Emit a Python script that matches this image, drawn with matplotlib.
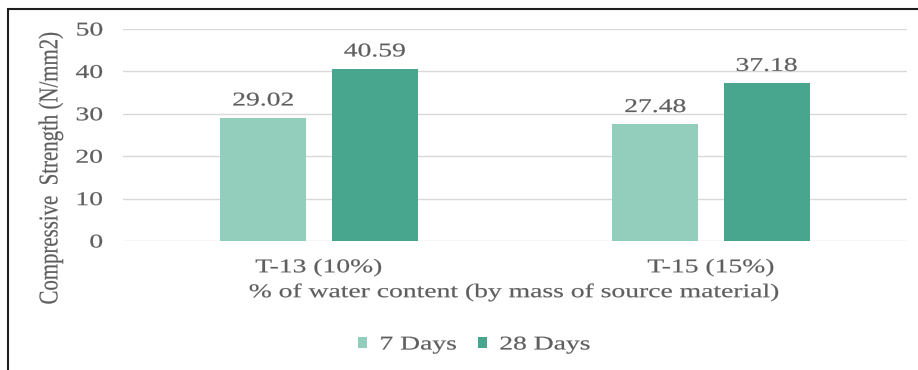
import matplotlib
matplotlib.use("Agg")
import matplotlib.pyplot as plt
from matplotlib.patches import Rectangle
from matplotlib.patheffects import AbstractPathEffect
from matplotlib.transforms import Affine2D
import numpy as np

categories = ["T-13 (10%)", "T-15 (15%)"]
series_names = ["7 Days", "28 Days"]
days7 = [29.02, 27.48]
days28 = [40.59, 37.18]
yticks = [0, 10, 20, 30, 40, 50]

colors = ["#93CEBD", "#48A68E"]
text_color = "#5E5E5E"
plt.rcParams["font.family"] = ["Liberation Serif", "DejaVu Serif"]


class Widen(AbstractPathEffect):
    """Draw glyphs stretched along the local x (or y) axis around an anchor,
    with a thin outline in the fill colour to give the strokes some weight."""

    def __init__(self, sx=1.0, sy=1.0, anchor="center", lw=0.15):
        super().__init__()
        self.sx, self.sy, self.anchor, self.lw = sx, sy, anchor, lw

    def draw_path(self, renderer, gc, tpath, affine, rgbFace=None):
        ext = tpath.get_extents()
        if self.anchor == "left":
            cx = ext.x0
        elif self.anchor == "right":
            cx = ext.x1
        else:
            cx = 0.5 * (ext.x0 + ext.x1)
        cy = 0.5 * (ext.y0 + ext.y1)
        t = (Affine2D().translate(-cx, -cy).scale(self.sx, self.sy)
             .translate(cx, cy))
        gc0 = renderer.new_gc()
        gc0.copy_properties(gc)
        if rgbFace is not None and self.lw > 0:
            gc0.set_foreground(rgbFace)
            gc0.set_linewidth(self.lw)
            gc0.set_joinstyle("round")
        renderer.draw_path(gc0, tpath, t + affine, rgbFace)
        gc0.restore()


SX = 1.42
FS = 14

W, H = 918, 370
fig = plt.figure(figsize=(W / 100, H / 100), dpi=100)
fig.patch.set_facecolor("white")

# plot area in pixels: x 123..907, y 29..241
left, right, top, bottom = 123, 907, 29, 241
ax = fig.add_axes([left / W, 1 - bottom / H, (right - left) / W, (bottom - top) / H])

x = np.arange(len(categories))
bw = 0.22
off = 0.142
b1 = ax.bar(x - off, days7, width=bw, color=colors[0], label=series_names[0], zorder=3)
b2 = ax.bar(x + off, days28, width=bw, color=colors[1], label=series_names[1], zorder=3)

for bars, vals in ((b1, days7), (b2, days28)):
    for rect, v in zip(bars, vals):
        ax.text(rect.get_x() + rect.get_width() / 2, v + 2.0, f"{v:.2f}",
                ha="center", va="bottom", fontsize=FS, color=text_color,
                path_effects=[Widen(sx=SX)])

ax.set_xlim(-0.5, len(categories) - 0.5)
ax.set_ylim(0, 50)
ax.set_yticks(yticks)
ax.set_xticks(x)
ax.set_xticklabels(categories)
ax.tick_params(axis="both", length=0, labelsize=FS, labelcolor=text_color)
ax.tick_params(axis="y", pad=14.5)
ax.tick_params(axis="x", pad=13)
for t in ax.get_yticklabels():
    t.set_path_effects([Widen(sx=SX, anchor="right")])
for t in ax.get_xticklabels():
    t.set_path_effects([Widen(sx=SX)])
ax.grid(axis="y", color="#D9D9D9", linewidth=1, zorder=0)
for s in ax.spines.values():
    s.set_visible(False)

ax.set_xlabel("% of water content (by mass of source material)", fontsize=FS,
              color=text_color, labelpad=5,
              path_effects=[Widen(sx=SX)])

fig.text(51 / W, 1 - 168 / H, "Compressive  Strength (N/mm2)", rotation=90,
         ha="center", va="center", fontsize=15, color=text_color,
         path_effects=[Widen(sy=1.3)])

leg = fig.legend(handles=[b1, b2], labels=series_names, loc="center left",
                 bbox_to_anchor=(358 / W, 1 - 345 / H), ncol=2, frameon=False,
                 fontsize=FS, labelcolor=text_color, handlelength=0.46,
                 handleheight=0.46, handletextpad=0.67, columnspacing=2.2,
                 borderpad=0, borderaxespad=0)
for t in leg.get_texts():
    t.set_path_effects([Widen(sx=SX, anchor="left")])

# outer frame
fig.patches.append(Rectangle((8 / W, -0.05), 1.0, 1 - 9 / H + 0.05,
                             transform=fig.transFigure, fill=False,
                             edgecolor="#1E1E1E", linewidth=1.5))

fig.savefig("out.png", dpi=100)
